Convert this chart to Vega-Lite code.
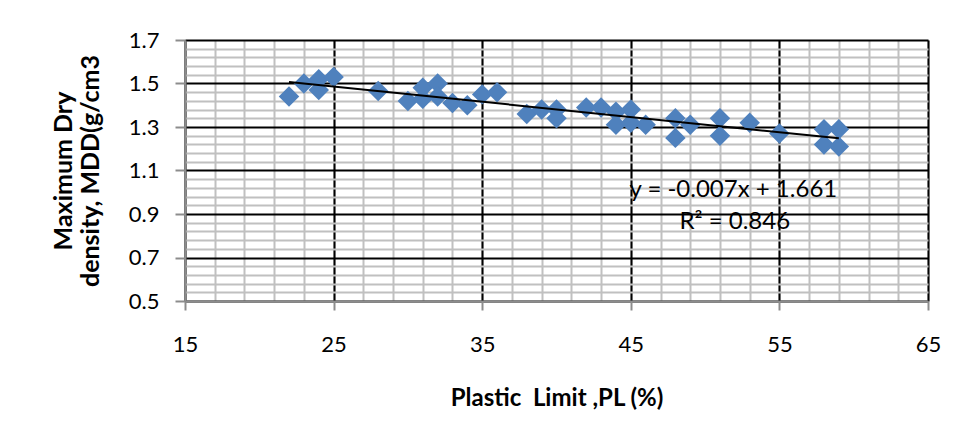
{
  "$schema": "https://vega.github.io/schema/vega-lite/v6.json",
  "width": 743,
  "height": 261,
  "autosize": {"type": "none"},
  "padding": {"left": 185, "top": 40, "right": 29, "bottom": 134},
  "background": "white",
  "config": {"view": {"stroke": null}, "font": "Lato"},
  "datasets": {
    "pts": [
      {"pl": 22, "mdd": 1.44}, {"pl": 23, "mdd": 1.50}, {"pl": 24, "mdd": 1.52}, {"pl": 24, "mdd": 1.47},
      {"pl": 25, "mdd": 1.53}, {"pl": 28, "mdd": 1.465}, {"pl": 30, "mdd": 1.42}, {"pl": 31, "mdd": 1.43},
      {"pl": 31, "mdd": 1.48}, {"pl": 32, "mdd": 1.50}, {"pl": 32, "mdd": 1.44}, {"pl": 33, "mdd": 1.41},
      {"pl": 34, "mdd": 1.40}, {"pl": 35, "mdd": 1.45}, {"pl": 36, "mdd": 1.46}, {"pl": 38, "mdd": 1.36},
      {"pl": 39, "mdd": 1.38}, {"pl": 40, "mdd": 1.38}, {"pl": 40, "mdd": 1.34}, {"pl": 42, "mdd": 1.39},
      {"pl": 43, "mdd": 1.39}, {"pl": 44, "mdd": 1.37}, {"pl": 44, "mdd": 1.31}, {"pl": 45, "mdd": 1.38},
      {"pl": 45, "mdd": 1.32}, {"pl": 46, "mdd": 1.31}, {"pl": 48, "mdd": 1.34}, {"pl": 48, "mdd": 1.25},
      {"pl": 49, "mdd": 1.31}, {"pl": 51, "mdd": 1.34}, {"pl": 51, "mdd": 1.26}, {"pl": 53, "mdd": 1.32},
      {"pl": 55, "mdd": 1.27}, {"pl": 58, "mdd": 1.29}, {"pl": 58, "mdd": 1.22}, {"pl": 59, "mdd": 1.29},
      {"pl": 59, "mdd": 1.21}
    ],
    "trend": [
      {"pl": 22, "mdd": 1.507},
      {"pl": 59, "mdd": 1.248}
    ],
    "labels": [
      {"pl": 51.9, "mdd": 1.01, "txt": "y = -0.007x + 1.661"},
      {"pl": 52.0, "mdd": 0.865, "txt": "R² = 0.846"}
    ]
  },
  "resolve": {"axis": {"x": "independent", "y": "independent"}},
  "layer": [
    {
      "data": {"name": "pts"},
      "mark": {"type": "point", "opacity": 0},
      "encoding": {
        "x": {"field": "pl", "type": "quantitative", "scale": {"domain": [15, 65], "nice": false, "zero": false},
          "axis": {"orient": "bottom", "values": [15,17,19,21,23,25,27,29,31,33,35,37,39,41,43,45,47,49,51,53,55,57,59,61,63,65], "grid": true, "gridColor": "#c0c0c0", "gridWidth": 2, "labels": false, "ticks": false, "domain": false, "title": null}},
        "y": {"field": "mdd", "type": "quantitative", "scale": {"domain": [0.5, 1.7], "nice": false, "zero": false},
          "axis": {"orient": "left", "values": [0.54,0.58,0.62,0.66,0.74,0.78,0.82,0.86,0.94,0.98,1.02,1.06,1.14,1.18,1.22,1.26,1.34,1.38,1.42,1.46,1.54,1.58,1.62,1.66], "grid": true, "gridColor": "#c0c0c0", "gridWidth": 2, "labels": false, "ticks": false, "domain": false, "title": null}}
      }
    },
    {
      "data": {"name": "pts"},
      "mark": {"type": "point", "shape": "diamond", "filled": true, "color": "#4F81BD", "size": 420, "opacity": 1},
      "encoding": {
        "x": {"field": "pl", "type": "quantitative", "scale": {"domain": [15, 65], "nice": false, "zero": false},
          "axis": {"orient": "bottom", "values": [15,25,35,45,55,65], "grid": true, "gridColor": "#000000", "gridWidth": 2,
            "domainColor": "#8c8c8c", "domainWidth": 2, "tickColor": "#8c8c8c", "tickWidth": 2, "tickSize": 9,
            "labelFont": "Lato", "labelFontSize": 22, "labelColor": "#000000", "labelPadding": 24, "labelFlush": false, "labelOverlap": false,
            "title": "Plastic\u00a0 Limit ,PL (%)", "titleFont": "Lato", "titleFontSize": 24, "titleFontWeight": "bold", "titleColor": "#000000", "titlePadding": 31}},
        "y": {"field": "mdd", "type": "quantitative", "scale": {"domain": [0.5, 1.7], "nice": false, "zero": false},
          "axis": {"orient": "left", "values": [0.5,0.7,0.9,1.1,1.3,1.5,1.7], "format": ".1f", "grid": true, "gridColor": "#000000", "gridWidth": 2,
            "domainColor": "#8c8c8c", "domainWidth": 2, "tickColor": "#8c8c8c", "tickWidth": 2, "tickSize": 10,
            "labelFont": "Lato", "labelFontSize": 22, "labelColor": "#000000", "labelPadding": 16, "labelFlush": false, "labelOverlap": false,
            "title": ["Maximum Dry", "density, MDD(g/cm3"], "titleFont": "Lato", "titleFontSize": 25, "titleFontWeight": "bold", "titleColor": "#000000", "titlePadding": 25, "titleLineHeight": 27}}
      }
    },
    {
      "data": {"name": "trend"},
      "mark": {"type": "line", "color": "#000000", "strokeWidth": 2},
      "encoding": {
        "x": {"field": "pl", "type": "quantitative", "axis": null},
        "y": {"field": "mdd", "type": "quantitative", "axis": null}
      }
    },
    {
      "data": {"name": "labels"},
      "mark": {"type": "text", "font": "Lato", "fontSize": 24, "color": "#000000", "align": "center", "baseline": "middle"},
      "encoding": {
        "x": {"field": "pl", "type": "quantitative", "axis": null},
        "y": {"field": "mdd", "type": "quantitative", "axis": null},
        "text": {"field": "txt"}
      }
    }
  ]
}
